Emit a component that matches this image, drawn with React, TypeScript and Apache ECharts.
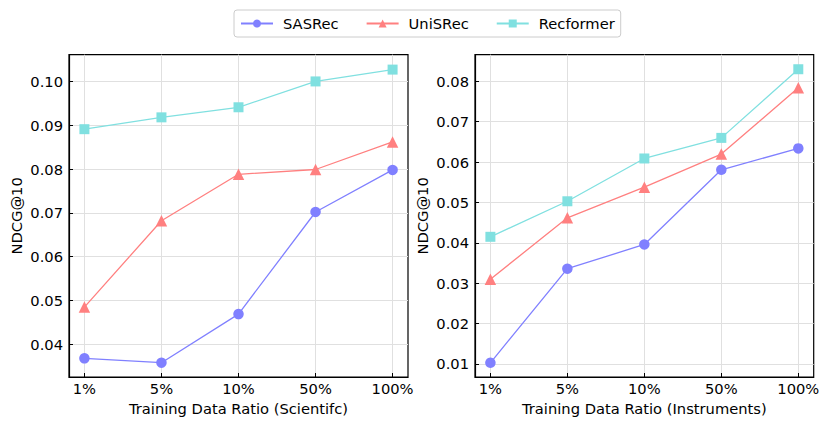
import React, { useEffect, useRef } from "react";
import * as echarts from "echarts";

const categories = ["1%", "5%", "10%", "50%", "100%"];
const seriesNames = ["SASRec", "UniSRec", "Recformer"];

const sciSASRec = [0.0368, 0.0358, 0.0469, 0.0702, 0.0798];
const sciUniSRec = [0.0485, 0.0682, 0.0788, 0.0799, 0.0862];
const sciRecformer = [0.0891, 0.0918, 0.0941, 0.1, 0.1027];

const insSASRec = [0.0103, 0.0336, 0.0396, 0.0581, 0.0634];
const insUniSRec = [0.031, 0.0462, 0.0538, 0.062, 0.0784];
const insRecformer = [0.0415, 0.0503, 0.0609, 0.066, 0.083];

const sciTicks = [0.04, 0.05, 0.06, 0.07, 0.08, 0.09, 0.1];
const insTicks = [0.01, 0.02, 0.03, 0.04, 0.05, 0.06, 0.07, 0.08];

const colors = ["#8080ff", "#ff8080", "#80e0e0"];
const symbols = ["circle", "triangle", "rect"];
const symbolSizes = [10.5, 11.5, 10];

const FONT = "DejaVu Sans";
const FS = 14.7;

export default function App() {
  const ref = useRef<HTMLDivElement>(null);
  useEffect(() => {
    document.body.style.margin = "0";
    const chart = echarts.init(ref.current!, null, { renderer: "svg" });
    const xIdx = categories.map((_, i) => i);

    const mkX = (gi: number, name: string) => ({
      type: "value",
      gridIndex: gi,
      min: -0.2,
      max: 4.2,
      name,
      nameLocation: "middle",
      nameGap: 23,
      nameTextStyle: { fontFamily: FONT, fontSize: FS, color: "#000" },
      axisLine: { show: true, onZero: false, lineStyle: { color: "#000", width: 1.2 } },
      axisTick: { show: true, inside: true, length: 4, customValues: xIdx, lineStyle: { color: "#000", width: 1 } },
      axisLabel: {
        customValues: xIdx,
        margin: 4,
        fontFamily: FONT,
        fontSize: FS,
        color: "#000",
        formatter: (v: number) => categories[Math.round(v)] ?? "",
      },
      splitLine: { show: true, lineStyle: { color: "#e0e0e0", width: 1 } },
    });

    const mkY = (gi: number, min: number, max: number, ticks: number[]) => ({
      type: "value",
      gridIndex: gi,
      min,
      max,
      name: "NDCG@10",
      nameLocation: "middle",
      nameGap: 45,
      nameTextStyle: { fontFamily: FONT, fontSize: FS, color: "#000" },
      axisLine: { show: true, onZero: false, lineStyle: { color: "#000", width: 1.2 } },
      axisTick: { show: true, inside: true, length: 4, customValues: ticks, lineStyle: { color: "#000", width: 1 } },
      axisLabel: {
        customValues: ticks,
        margin: 6,
        fontFamily: FONT,
        fontSize: FS,
        color: "#000",
        formatter: (v: number) => v.toFixed(2),
      },
      splitLine: { show: true, lineStyle: { color: "#e0e0e0", width: 1 } },
    });

    const mkSeries = (gi: number, data: number[][]) =>
      data.map((vals, si) => ({
        type: "line",
        name: seriesNames[si],
        xAxisIndex: gi,
        yAxisIndex: gi,
        data: vals.map((v, i) => [xIdx[i], v]),
        symbol: symbols[si],
        symbolSize: symbolSizes[si],
        showAllSymbol: true,
        lineStyle: { color: colors[si], width: 1.3 },
        itemStyle: { color: colors[si] },
        z: 3 + si,
      }));

    chart.setOption({
      animation: false,
      backgroundColor: "#fff",
      legend: {
        data: seriesNames,
        left: 234,
        top: 10,
        padding: [6, 6, 6, 6],
        itemGap: 27,
        itemWidth: 32,
        itemHeight: 10,
        borderColor: "#cccccc",
        borderWidth: 1,
        borderRadius: 3,
        textStyle: { fontFamily: FONT, fontSize: FS, color: "#000", padding: [0, 0, 0, 5] },
      },
      grid: [
        { left: 69, right: 422, top: 54.7, bottom: 51, show: true, borderColor: "#000", borderWidth: 1.2, backgroundColor: "transparent", containLabel: false },
        { left: 475, right: 16.3, top: 54.7, bottom: 51, show: true, borderColor: "#000", borderWidth: 1.2, backgroundColor: "transparent", containLabel: false },
      ],
      xAxis: [mkX(0, "Training Data Ratio (Scientifc)"), mkX(1, "Training Data Ratio (Instruments)")],
      yAxis: [mkY(0, 0.03254, 0.1061, sciTicks), mkY(1, 0.00678, 0.0866, insTicks)],
      series: [
        ...mkSeries(0, [sciSASRec, sciUniSRec, sciRecformer]),
        ...mkSeries(1, [insSASRec, insUniSRec, insRecformer]),
      ],
    });
    return () => chart.dispose();
  }, []);
  return <div ref={ref} style={{ width: 830, height: 428 }} />;
}
